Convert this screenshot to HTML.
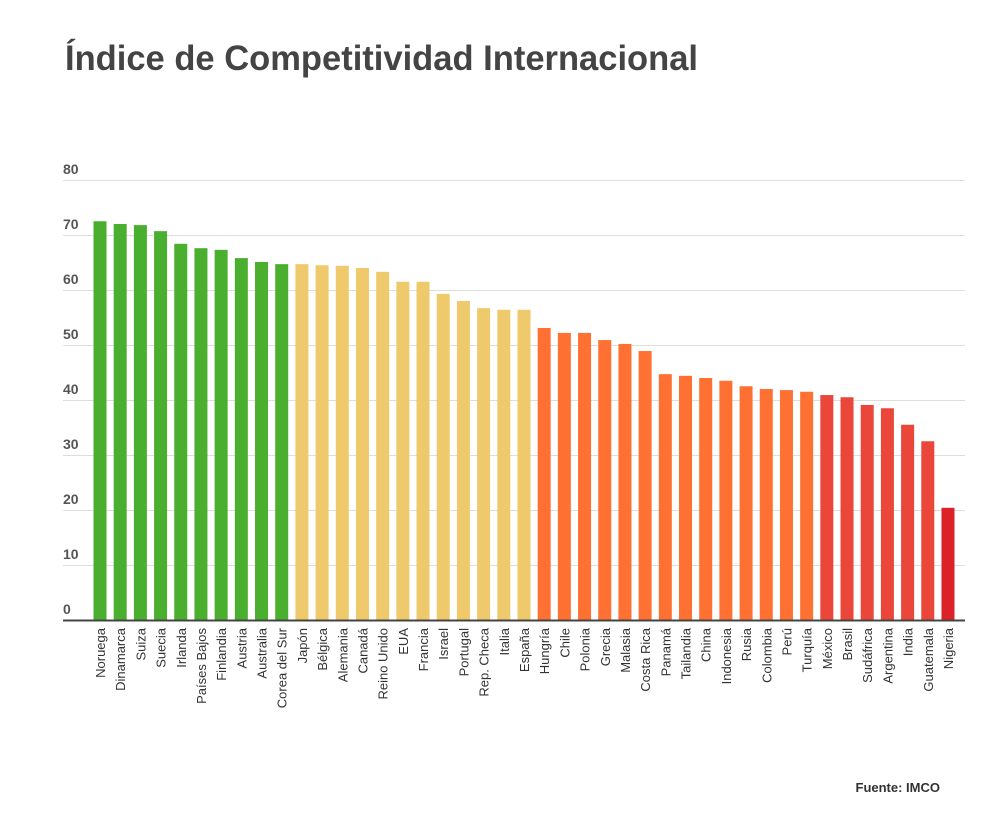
<!DOCTYPE html>
<html><head><meta charset="utf-8"><style>
body{margin:0;background:#fff;font-family:"Liberation Sans",sans-serif;}
</style></head><body>
<svg width="1000" height="815" xmlns="http://www.w3.org/2000/svg">
<text x="65" y="70" font-size="35" font-weight="bold" fill="#444" font-family="Liberation Sans, sans-serif" textLength="633" lengthAdjust="spacingAndGlyphs">Índice de Competitividad Internacional</text>
<g id="grid"></g><g id="bars"></g><g id="xl"></g>
<line x1="63" y1="620.5" x2="965" y2="620.5" stroke="#444" stroke-width="2"/>
<text x="940" y="792" font-size="13" font-weight="bold" fill="#333" text-anchor="end">Fuente: IMCO</text>
</svg>
<script>
const categories=["Noruega","Dinamarca","Suiza","Suecia","Irlanda","Países Bajos","Finlandia","Austria","Australia","Corea del Sur","Japón","Bélgica","Alemania","Canadá","Reino Unido","EUA","Francia","Israel","Portugal","Rep. Checa","Italia","España","Hungría","Chile","Polonia","Grecia","Malasia","Costa Rica","Panamá","Tailandia","China","Indonesia","Rusia","Colombia","Perú","Turquía","México","Brasil","Sudáfrica","Argentina","India","Guatemala","Nigeria"];
const values=[72.5,72,71.8,70.7,68.4,67.6,67.3,65.8,65.1,64.7,64.7,64.5,64.4,64,63.3,61.5,61.5,59.3,58,56.7,56.4,56.4,53.1,52.2,52.2,50.9,50.2,48.9,44.7,44.4,44,43.5,42.5,42,41.8,41.5,40.9,40.5,39.1,38.5,35.5,32.5,20.4];
const groups=["g","g","g","g","g","g","g","g","g","g","y","y","y","y","y","y","y","y","y","y","y","y","o","o","o","o","o","o","o","o","o","o","o","o","o","o","r","r","r","r","r","r","n"];
const yTicks=[0,10,20,30,40,50,60,70,80];
const colors={g:"#4aaf2e",y:"#efca6c",o:"#fe7132",r:"#ea463a",n:"#dc2228"};
const NS="http://www.w3.org/2000/svg";
const y=v=>620-v*5.5;
const x=i=>100+i*20.19;
const grid=document.getElementById("grid");
yTicks.forEach(t=>{
 if(t>0){const l=document.createElementNS(NS,"line");
 l.setAttribute("x1",63);l.setAttribute("x2",965);l.setAttribute("y1",y(t)+0.5);l.setAttribute("y2",y(t)+0.5);
 l.setAttribute("stroke","#ddd");
 
 
 grid.appendChild(l);}
 const tx=document.createElementNS(NS,"text");
 tx.setAttribute("x",63);tx.setAttribute("y",y(t)-6);tx.setAttribute("font-size","14");tx.setAttribute("font-weight","bold");tx.setAttribute("fill","#555");
 tx.textContent=t;
 
 
 grid.appendChild(tx);
});
const bars=document.getElementById("bars"),xl=document.getElementById("xl");
categories.forEach((c,i)=>{
 const r=document.createElementNS(NS,"rect");
 r.setAttribute("x",x(i)-6.5);r.setAttribute("width",13);r.setAttribute("y",y(values[i]));r.setAttribute("height",620-y(values[i]));
 r.setAttribute("fill",colors[groups[i]]);
 
 
 bars.appendChild(r);
 const t=document.createElementNS(NS,"text");
 t.setAttribute("transform",`translate(${x(i)+5},628) rotate(-90)`);
 t.setAttribute("text-anchor","end");t.setAttribute("font-size","13");t.setAttribute("fill","#333");
 t.textContent=c;
 
 
 xl.appendChild(t);
});
</script>
</body></html>
